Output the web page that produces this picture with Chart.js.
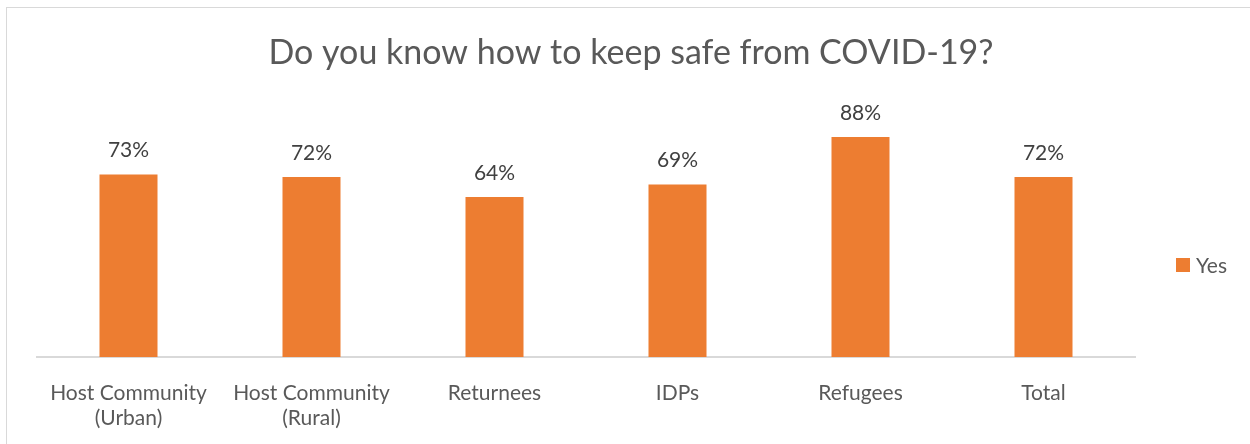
<!DOCTYPE html>
<html>
<head>
<meta charset="utf-8">
<script src="https://cdn.jsdelivr.net/npm/chart.js@4/dist/chart.umd.min.js"></script>
<style>
  html, body { margin: 0; padding: 0; background: #fff; }
  #frame { position: absolute; left: 6px; top: 7px; width: 1250px; height: 444px; border: 1.5px solid #d9d9d9; box-sizing: border-box; }
  #wrap { position: absolute; left: 0; top: 0; width: 1250px; height: 444px; }
</style>
</head>
<body>
<div id="frame"></div>
<div id="wrap"><canvas id="c" width="1250" height="444"></canvas></div>
<script>
const categories = [["Host Community", "(Urban)"], ["Host Community", "(Rural)"], "Returnees", "IDPs", "Refugees", "Total"];
const yesValues = [0.73, 0.72, 0.64, 0.69, 0.88, 0.72];
const seriesName = "Yes";
const chartTitle = "Do you know how to keep safe from COVID-19?";

const FONT = "Lato, 'Open Sans', sans-serif";
const ORANGE = "#ED7D31";

const valueLabels = {
  id: 'valueLabels',
  afterDatasetsDraw(chart) {
    const ctx = chart.ctx;
    const meta = chart.getDatasetMeta(0);
    ctx.save();
    ctx.fillStyle = '#404040';
    ctx.font = '21px ' + FONT;
    ctx.textAlign = 'center';
    ctx.textBaseline = 'middle';
    meta.data.forEach((bar, i) => {
      const v = chart.data.datasets[0].data[i];
      ctx.fillText(Math.round(v * 100) + '%', bar.x, bar.y - 24);
    });
    ctx.restore();
  }
};

const titleAndLegend = {
  id: 'titleAndLegend',
  afterDraw(chart) {
    const ctx = chart.ctx;
    const ds = chart.data.datasets[0];
    ctx.save();
    ctx.fillStyle = '#595959';
    ctx.font = '34px ' + FONT;
    ctx.textAlign = 'center';
    ctx.textBaseline = 'middle';
    ctx.fillText(chartTitle, 631, 53);
    ctx.fillStyle = ds.backgroundColor;
    ctx.fillRect(1176, 258, 14, 14);
    ctx.fillStyle = '#595959';
    ctx.font = '21px ' + FONT;
    ctx.textAlign = 'left';
    ctx.fillText(ds.label, 1196, 266);
    ctx.restore();
  }
};

new Chart(document.getElementById('c'), {
  type: 'bar',
  data: {
    labels: categories,
    datasets: [{
      label: seriesName,
      data: yesValues,
      backgroundColor: ORANGE,
      categoryPercentage: 1.0,
      barPercentage: 0.317
    }]
  },
  options: {
    responsive: false,
    animation: false,
    layout: { padding: { left: 37, right: 115, top: 107, bottom: 0 } },
    plugins: {
      legend: { display: false },
      tooltip: { enabled: false },
      title: { display: false }
    },
    scales: {
      y: {
        display: false,
        min: 0,
        max: 1.0
      },
      x: {
        grid: { display: false, drawTicks: false },
        border: { display: true, color: '#d9d9d9', width: 2 },
        ticks: {
          color: '#595959',
          font: { family: FONT, size: 21, lineHeight: 1.22 },
          padding: 23,
          maxRotation: 0
        },
        afterFit(scale) { scale.height = 87; }
      }
    }
  },
  plugins: [valueLabels, titleAndLegend]
});
</script>
</body>
</html>
